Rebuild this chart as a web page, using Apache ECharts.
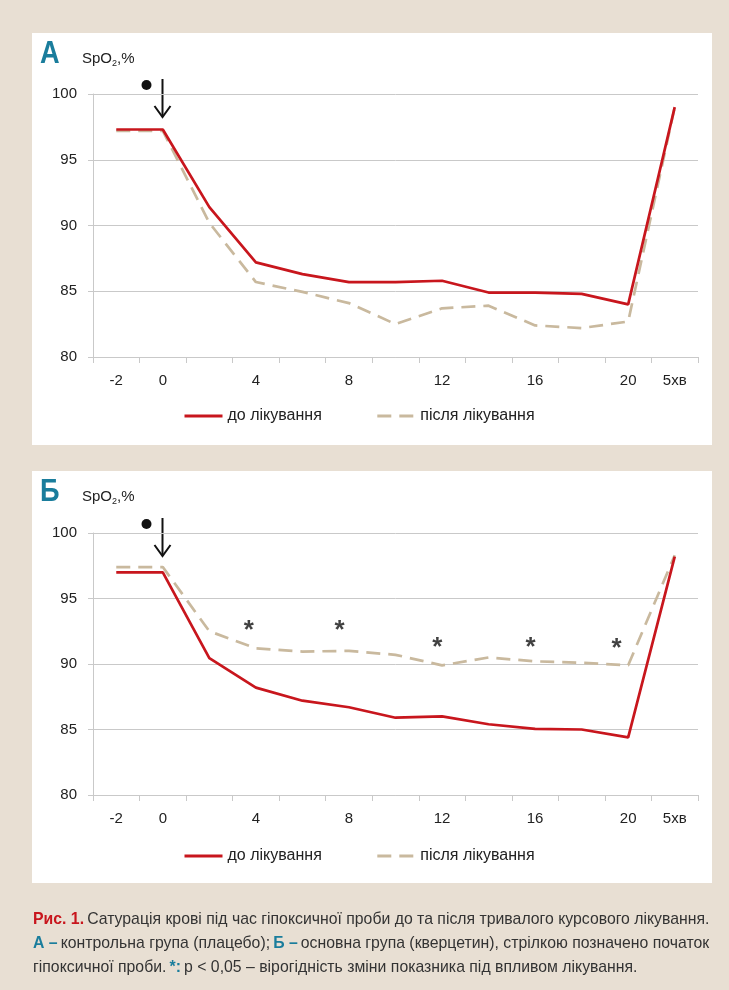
<!DOCTYPE html>
<html style="height: 100%">
<head>
    <meta charset="utf-8">
    <script type="text/javascript" src="https://cdn.jsdelivr.net/npm/echarts@6/dist/echarts.min.js"></script>
</head>
<body style="height: 100%; margin: 0; background: #e8dfd3">
    <div id="satChart" style="height: 990px; width: 729px;"></div>

    <script type="text/javascript">
        // хвилини проби (останнє - 5 хв відновлення)
        var minutes = ['-2', '0', '2', '4', '6', '8', '10', '12', '14', '16', '18', '20', '5хв'];
        var shownTicks = ['-2', '0', '4', '8', '12', '16', '20', '5хв'];

        // А - контрольна група (плацебо)
        var controlBefore = [97.3, 97.3, 91.4, 87.2, 86.3, 85.7, 85.7, 85.8, 84.9, 84.9, 84.8, 84.0, 99.0];
        var controlAfter = [97.2, 97.2, 90.2, 85.7, 84.95, 84.1, 82.5, 83.7, 83.9, 82.4, 82.2, 82.7, 99.0];

        // Б - основна група (кверцетин)
        var mainBefore = [97.0, 97.0, 90.45, 88.2, 87.2, 86.7, 85.9, 86.0, 85.4, 85.05, 85.0, 84.4, 98.2];
        var mainAfter = [97.4, 97.4, 92.5, 91.2, 90.95, 91.0, 90.7, 89.9, 90.5, 90.2, 90.1, 89.9, 98.3];

        // зірочки p < 0,05 (хвилина, рівень)
        var starMinutes = [3.7, 7.6, 11.8, 15.8, 19.5];
        var starLevels = [93.0, 93.0, 91.7, 91.7, 91.65];

        var RED = '#c8161d';
        var TAN = '#c9b99e';
        var TEAL = '#1a7d9c';
        var GRID = '#c9c9c9';
        var FONT = 'Liberation Sans, Arial, sans-serif';

        var chartDom = document.getElementById('satChart');
        var satChart = echarts.init(chartDom);

        function xAxisFor(gridIdx) {
            return {
                type: 'category',
                gridIndex: gridIdx,
                data: minutes,
                boundaryGap: true,
                axisLine: { onZero: false, lineStyle: { color: GRID, width: 1 } },
                axisTick: { show: true, length: 6, lineStyle: { color: GRID } },
                axisLabel: {
                    interval: 0,
                    margin: 16,
                    fontFamily: FONT,
                    fontSize: 15,
                    color: '#222',
                    formatter: function (v) {
                        return shownTicks.indexOf(v) >= 0 ? v : '';
                    }
                },
                splitLine: { show: false }
            };
        }

        function yAxisFor(gridIdx) {
            return {
                type: 'value',
                gridIndex: gridIdx,
                min: 80,
                max: 100,
                interval: 5,
                axisLine: { show: true, onZero: false, lineStyle: { color: GRID } },
                axisTick: { show: true, length: 5, lineStyle: { color: GRID } },
                axisLabel: { margin: 16, fontFamily: FONT, fontSize: 15, color: '#222' },
                splitLine: { lineStyle: { color: GRID, width: 1 } }
            };
        }

        function lineSeries(name, data, idx, dashed) {
            return {
                name: name,
                type: 'line',
                xAxisIndex: idx,
                yAxisIndex: idx,
                data: data,
                symbol: 'none',
                showSymbol: false,
                animation: false,
                z: dashed ? 2 : 3,
                lineStyle: {
                    color: dashed ? TAN : RED,
                    width: 2.7,
                    type: dashed ? [14, 8] : 'solid'
                },
                itemStyle: { color: dashed ? TAN : RED }
            };
        }

        function legendFor(top) {
            return {
                left: 183,
                top: top,
                padding: 0,
                orient: 'horizontal',
                itemWidth: 38,
                itemHeight: 14,
                itemGap: 54,
                itemStyle: { opacity: 0 },
                lineStyle: { width: 3 },
                textStyle: { fontFamily: FONT, fontSize: 16, color: '#222' },
                data: ['до лікування', 'після лікування'],
                selectedMode: false
            };
        }

        var starData = starMinutes.map(function (m, i) { return [m, starLevels[i]]; });

        function panelText(letter, y) {
            return [{
                type: 'text', x: 40, y: y, scaleX: 0.85,
                style: { text: letter, fontFamily: FONT, fontWeight: 'bold', fontSize: 32, fill: TEAL }
            }, {
                type: 'text', x: 82, y: y + 12,
                style: {
                    text: '{a|SpO}{s|2}{a|,%}',
                    rich: {
                        a: { fontFamily: FONT, fontSize: 15, fill: '#222', lineHeight: 18 },
                        s: { fontFamily: FONT, fontSize: 9, fill: '#222', lineHeight: 10, verticalAlign: 'bottom' }
                    }
                }
            }];
        }

        var satOption = {
            backgroundColor: '#e8dfd3',
            animation: false,
            grid: [
                { left: 93, right: 31, top: 94, height: 263 },
                { left: 93, right: 31, top: 533, height: 262 }
            ],
            xAxis: [xAxisFor(0), xAxisFor(1), {
                type: 'value', gridIndex: 1, min: -3, max: 23, show: false,
                axisLine: { show: false }, splitLine: { show: false }
            }],
            yAxis: [yAxisFor(0), yAxisFor(1)],
            legend: [legendFor(408), legendFor(848)],
            series: [
                lineSeries('після лікування', controlAfter, 0, true),
                lineSeries('до лікування', controlBefore, 0, false),
                lineSeries('після лікування', mainAfter, 1, true),
                lineSeries('до лікування', mainBefore, 1, false),
                {
                    type: 'scatter',
                    xAxisIndex: 2,
                    yAxisIndex: 1,
                    data: starData,
                    symbol: 'circle',
                    symbolSize: 2,
                    itemStyle: { color: 'rgba(0,0,0,0)' },
                    silent: true,
                    z: 5,
                    label: {
                        show: true,
                        position: 'inside',
                        formatter: '*',
                        fontFamily: FONT,
                        fontWeight: 'bold',
                        fontSize: 26,
                        color: '#111',
                        offset: [0, 6]
                    }
                }
            ],
            graphic: [
                { type: 'rect', z: -10, shape: { x: 32, y: 33, width: 680, height: 412 }, style: { fill: '#fff' } },
                { type: 'rect', z: -10, shape: { x: 32, y: 471, width: 680, height: 412 }, style: { fill: '#fff' } }
            ].concat(panelText('А', 38)).concat(panelText('Б', 476)).concat([{
                type: 'text',
                x: 33,
                y: 907,
                scaleX: 0.93,
                style: {
                    text: '{r|Рис. 1.} {t|Сатурація крові під час гіпоксичної проби до та після тривалого курсового лікування.}\n' +
                        '{b|А –} {t|контрольна група (плацебо);} {b|Б –} {t|основна група (кверцетин), стрілкою позначено початок}\n' +
                        '{t|гіпоксичної проби.} {b|*:} {t|p < 0,05 – вірогідність зміни показника під впливом лікування.}',
                    rich: {
                        r: { fontFamily: FONT, fontSize: 17, fontWeight: 'bold', fill: '#c8161d', lineHeight: 24 },
                        b: { fontFamily: FONT, fontSize: 17, fontWeight: 'bold', fill: TEAL, lineHeight: 24 },
                        t: { fontFamily: FONT, fontSize: 17, fill: '#333', lineHeight: 24 }
                    }
                }
            }])
        };

        satChart.setOption(satOption);

        // стрілка та точка - початок гіпоксичної проби
        function startMark(idx, id) {
            var top = satChart.convertToPixel({ xAxisIndex: idx, yAxisIndex: idx }, ['0', 100]);
            var x = Math.round(top[0]) - 0.5, y = top[1];
            return [{
                type: 'circle', id: id + 'dot',
                shape: { cx: x - 16, cy: y - 9, r: 5 },
                style: { fill: '#111' }
            }, {
                type: 'line', id: id + 'shaft',
                shape: { x1: x, y1: y - 15, x2: x, y2: y + 23 },
                style: { stroke: '#111', lineWidth: 2 }
            }, {
                type: 'polyline', id: id + 'head',
                shape: { points: [[x - 8, y + 12], [x, y + 23], [x + 8, y + 12]] },
                style: { stroke: '#111', lineWidth: 2, fill: null }
            }];
        }

        satChart.setOption({
            graphic: startMark(0, 'a').concat(startMark(1, 'b'))
        });
    </script>
</body>
</html>
